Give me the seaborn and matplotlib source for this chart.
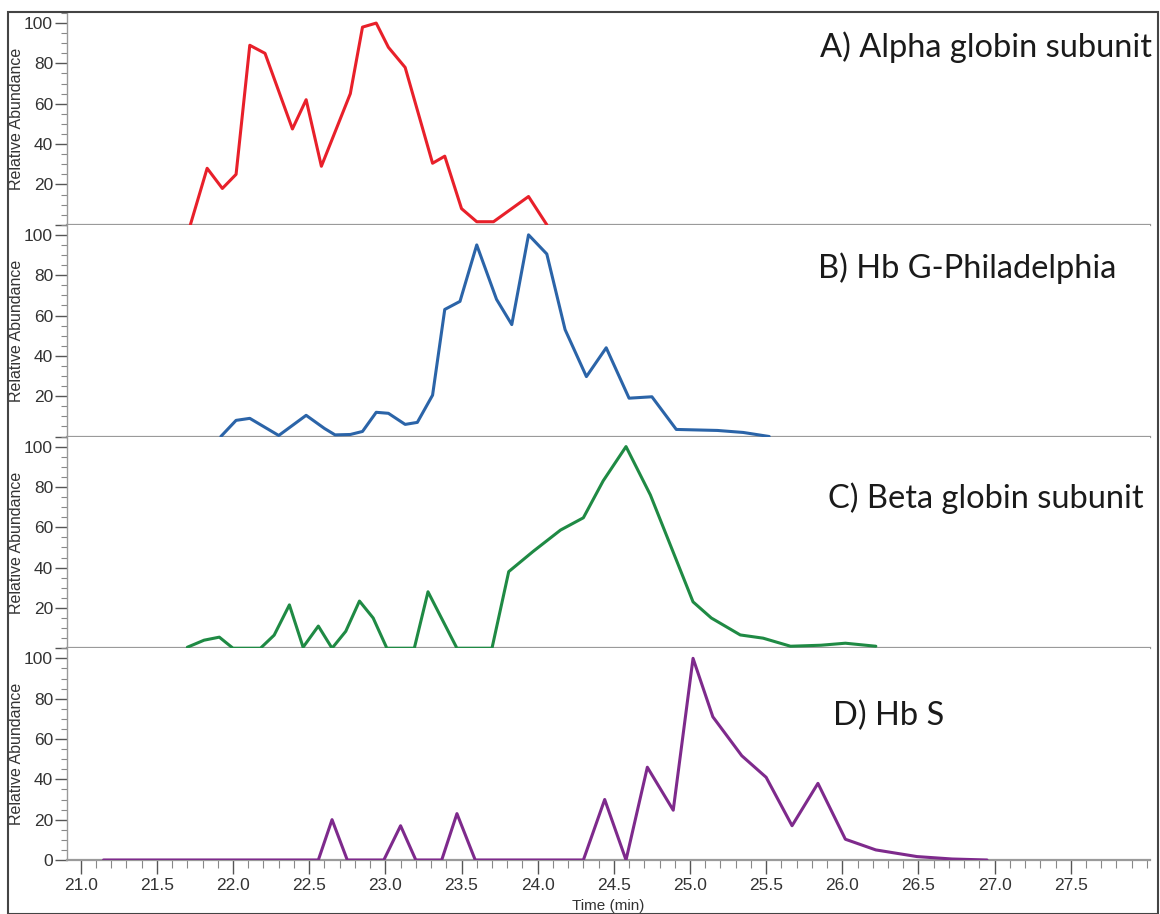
import numpy as np
import pandas as pd
import seaborn as sns
import matplotlib.pyplot as plt
from matplotlib.ticker import MultipleLocator, FixedLocator
from matplotlib.patches import Rectangle

# ---------------- data ----------------
time_a = [21.72, 21.83, 21.93, 22.02, 22.11, 22.21, 22.39, 22.48, 22.58, 22.77,
          22.85, 22.94, 23.02, 23.13, 23.31, 23.39, 23.50, 23.60, 23.71, 23.94, 24.06]
abund_a = [0, 28, 18, 25, 89, 85, 47.5, 62, 29, 65,
           98, 100, 88, 78, 30.5, 34, 8, 1.5, 1.5, 14, 0]

time_b = [21.92, 22.02, 22.11, 22.30, 22.48, 22.60, 22.67, 22.77, 22.85, 22.94,
          23.02, 23.13, 23.21, 23.31, 23.39, 23.49, 23.60, 23.73, 23.83, 23.94,
          24.06, 24.18, 24.32, 24.45, 24.60, 24.75, 24.91, 25.18, 25.35, 25.52]
abund_b = [0, 8, 9, 0.5, 10.5, 4, 0.8, 1, 2.5, 12,
           11.5, 6, 7, 20.5, 63, 67, 95, 68, 55.5, 100,
           90.5, 53, 29.7, 44, 19, 19.7, 3.5, 3, 2, 0]

time_c = [21.70, 21.81, 21.91, 22.00, 22.18, 22.27, 22.37, 22.46, 22.56, 22.65,
          22.74, 22.83, 22.92, 23.01, 23.19, 23.28, 23.47, 23.70, 23.81, 23.97,
          24.15, 24.30, 24.43, 24.58, 24.74, 25.02, 25.14, 25.33, 25.48, 25.66,
          25.86, 26.02, 26.22]
abund_c = [0.5, 4, 5.5, 0, 0, 6.5, 21.5, 0.5, 11, 0,
           8.4, 23.4, 15, 0, 0, 28, 0, 0, 38, 48,
           58.6, 64.7, 83, 100, 76, 23, 15, 6.6, 5, 1,
           1.5, 2.5, 1]

time_d = [21.15, 22.56, 22.65, 22.75, 22.99, 23.10, 23.20, 23.37, 23.47, 23.59,
          24.30, 24.44, 24.58, 24.72, 24.89, 25.02, 25.15, 25.34, 25.50, 25.67,
          25.84, 26.02, 26.22, 26.49, 26.72, 26.95]
abund_d = [0, 0, 20, 0, 0, 17, 0, 0, 23, 0,
           0, 30, 0, 46, 24.7, 100, 71, 51.7, 41, 17,
           38, 10.3, 5, 1.7, 0.5, 0]

panel_titles = ["A) Alpha globin subunit", "B) Hb G-Philadelphia",
                "C) Beta globin subunit", "D) Hb S"]
colors = ["#e8202a", "#2b64a8", "#1f8a44", "#7e2a8c"]
x_tick_labels = ["21.0", "21.5", "22.0", "22.5", "23.0", "23.5", "24.0",
                 "24.5", "25.0", "25.5", "26.0", "26.5", "27.0", "27.5"]

series = [(time_a, abund_a), (time_b, abund_b), (time_c, abund_c), (time_d, abund_d)]

# ---------------- figure ----------------
sns.set_theme(style="white")
plt.rcParams['font.family'] = ['Liberation Sans', 'DejaVu Sans']

W, H = 1160, 914
fig = plt.figure(figsize=(W / 100, H / 100), dpi=100)

left, right = 67 / W, 1150 / W
bottom, top = 1 - 860 / H, 1 - 13 / H
ph = (top - bottom) / 4

tick_col = "#555555"
text_col = "#333333"

axes = []
for i, ((t, v), title, col) in enumerate(zip(series, panel_titles, colors)):
    y0 = top - (i + 1) * ph
    ax = fig.add_axes([left, y0, right - left, ph])
    axes.append(ax)
    df = pd.DataFrame({"Time": t, "Abundance": v})
    sns.lineplot(data=df, x="Time", y="Abundance", color=col, linewidth=2.2,
                 ax=ax, sort=False, estimator=None, zorder=3)
    ax.set_xlim(20.91, 28.02)
    ax.set_ylim(0, 105)
    ax.set_facecolor("white")
    for s in ["top", "right"]:
        ax.spines[s].set_visible(False)
    ax.spines["left"].set_color("#9a9a9a")
    ax.spines["left"].set_linewidth(1.0)
    ax.spines["bottom"].set_color("#9a9a9a")
    ax.spines["bottom"].set_linewidth(1.6)
    ax.spines["bottom"].set_zorder(2)

    yt = [0, 20, 40, 60, 80, 100]
    ax.yaxis.set_major_locator(FixedLocator(yt))
    if i < 3:
        ax.set_yticklabels(["", "20", "40", "60", "80", "100"])
    else:
        ax.set_yticklabels(["0", "20", "40", "60", "80", "100"])
    ax.yaxis.set_minor_locator(MultipleLocator(5))
    ax.tick_params(axis="y", which="major", left=True, length=9, width=1,
                   color=tick_col, labelsize=12.5, labelcolor=text_col, pad=1)
    ax.tick_params(axis="y", which="minor", left=True, length=4.5, width=0.8,
                   color="#888888")

    ax.xaxis.set_major_locator(MultipleLocator(0.5))
    ax.xaxis.set_minor_locator(MultipleLocator(0.1))
    if i < 3:
        ax.tick_params(axis="x", which="both", bottom=False, labelbottom=False)
        ax.set_xlabel("")
    else:
        ax.set_xticks([21.0 + 0.5 * k for k in range(len(x_tick_labels))])
        ax.set_xticklabels(x_tick_labels)
        ax.tick_params(axis="x", which="major", bottom=True, length=10, width=1,
                       color=tick_col, labelsize=12.5, labelcolor=text_col, pad=3)
        ax.tick_params(axis="x", which="minor", bottom=True, length=6, width=0.8,
                       color="#888888")
        ax.set_xlabel("Time (min)", fontsize=11, color=text_col, labelpad=4)

    ax.set_ylabel("Relative Abundance", fontsize=11.5, color=text_col, labelpad=0)
    ax.grid(False)

# panel titles
title_pos = [(820, 47), (818, 268), (828, 498), (833, 716)]
for (px, py), title in zip(title_pos, panel_titles):
    fig.text(px / W, 1 - py / H, title, fontsize=23.5, family=["Lato", "DejaVu Sans"],
             color="#1a1a1a", ha="left", va="center")

# outer frame
fig.patches.append(Rectangle((8 / W, 0), (1158 - 8) / W, 1 - 12 / H,
                             transform=fig.transFigure, fill=False,
                             edgecolor="#444444", linewidth=1.5, zorder=0))

fig.savefig("out.png", dpi=100, facecolor="white")
